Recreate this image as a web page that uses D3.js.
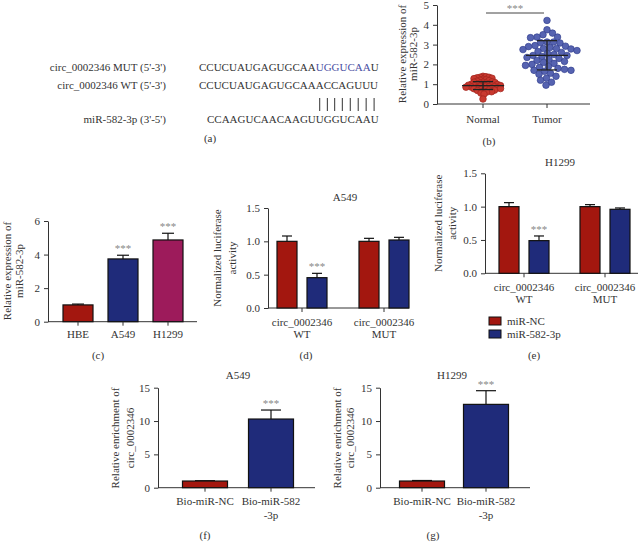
<!DOCTYPE html>
<html><head><meta charset="utf-8">
<script src="https://cdn.jsdelivr.net/npm/d3@7"></script>
<style>
body{margin:0;background:#fff}
text{font-family:"Liberation Serif","Times New Roman",serif;fill:#333;font-size:11px}
</style></head><body>
<svg id="fig" width="640" height="542"></svg>
<script>
// ---------- DATA ----------
const seqLabels = ["circ_0002346 MUT (5'-3')", "circ_0002346 WT (5'-3')", "miR-582-3p (3'-5')"];
const mutSeqParts = ["CCUCUAUGAGUGCAA", "UGGUCAA", "U"];
const wtSeq = "CCUCUAUGAGUGCAAACCAGUUU";
const mirSeq = "CCAAGUCAACAAGUUGGUCAAU";
const pairIdx = [15, 16, 17, 18, 19, 20, 21, 22];

const scatterGroups = ["Normal", "Tumor"];
const normalVals = [1.40, 1.38, 1.35, 1.35, 1.32, 1.30, 1.28, 1.25, 1.22, 1.20, 1.18, 1.15, 1.12, 1.10, 1.10, 1.08, 1.05, 1.05, 1.02, 1.00, 1.00, 0.98, 0.97, 0.95, 0.95, 0.93, 0.92, 0.90, 0.90, 0.88, 0.87, 0.85, 0.85, 0.83, 0.82, 0.80, 0.80, 0.78, 0.77, 0.75, 0.72, 0.70, 0.70, 0.68, 0.65, 0.62, 0.60, 0.55, 0.50, 0.25];
const tumorVals = [4.22, 3.75, 3.58, 3.50, 3.38, 3.38, 3.35, 3.13, 3.13, 3.08, 3.10, 2.95, 2.92, 2.90, 2.85, 2.80, 2.80, 2.78, 2.75, 2.70, 2.65, 2.60, 2.55, 2.50, 2.45, 2.45, 2.40, 2.35, 2.30, 2.25, 2.20, 2.15, 2.10, 2.05, 2.00, 1.95, 1.90, 1.85, 1.80, 1.75, 1.70, 1.70, 1.65, 1.55, 1.50, 1.40, 1.30, 1.20, 1.10, 0.95];
const scatterMean = [0.93, 2.46];
const scatterSD = [0.20, 0.74];
const scatterTicks = [0, 1, 2, 3, 4, 5];

const cellLines = ["HBE", "A549", "H1299"];
const cellExpr = [1.0, 3.74, 4.87];
const cellErr = [0.05, 0.22, 0.40];
const cellSig = ["", "***", "***"];
const cellTicks = [0, 2, 4, 6];

const lucGroups = ["WT", "MUT"];
const lucGroupPrefix = "circ_0002346";
const lucSeries = ["miR-NC", "miR-582-3p"];
const lucA549NC = [1.0, 1.0];
const lucA549NCErr = [0.08, 0.045];
const lucA549Mir = [0.455, 1.02];
const lucA549MirErr = [0.065, 0.04];
const lucH1299NC = [1.0, 1.0];
const lucH1299NCErr = [0.06, 0.03];
const lucH1299Mir = [0.49, 0.96];
const lucH1299MirErr = [0.07, 0.02];
const lucSig = ["***", ""];
const lucTicks = [0, 0.5, 1.0, 1.5];

const enrichGroups = ["Bio-miR-NC", "Bio-miR-582"];
const enrichGroupLine2 = ["", "-3p"];
const enrichA549 = [1.0, 10.3];
const enrichA549Err = [0.05, 1.35];
const enrichH1299 = [1.0, 12.5];
const enrichH1299Err = [0.08, 2.05];
const enrichSig = ["", "***"];
const enrichTicks = [0, 5, 10, 15];

// ---------- STYLE ----------
const RED = "#a3170f", NAVY = "#1f2b7a", MAG = "#9d1b5b";
const AX = "#333";
const svg = d3.select("#fig");

function txt(g, x, y, s, anchor, extra) {
  const t = g.append("text").attr("x", x).attr("y", y).attr("text-anchor", anchor || "middle").text(s);
  if (extra) extra(t);
  return t;
}
function yLabel(lines, xs, cy) {
  lines.forEach((l, i) => {
    svg.append("text").attr("transform", `translate(${xs[i] + 3.5},${cy}) rotate(-90)`)
      .attr("text-anchor", "middle").text(l);
  });
}
function yAxis(scale, x, ticks, fmt) {
  const g = svg.append("g").attr("transform", `translate(${x},0)`)
    .call(d3.axisLeft(scale).tickValues(ticks).tickSize(4).tickSizeOuter(0).tickPadding(4).tickFormat(fmt || d3.format("d")));
  g.select(".domain").attr("stroke", AX);
  g.selectAll(".tick line").attr("stroke", AX);
  g.selectAll(".tick text").attr("fill", "#333").style("font-family", '"Liberation Serif",serif').style("font-size", "11px");
  return g;
}
function xAxisLine(x0, x1, y) {
  svg.append("line").attr("x1", x0).attr("x2", x1).attr("y1", y).attr("y2", y).attr("stroke", AX);
}
function xTick(x, y) {
  svg.append("line").attr("x1", x).attr("x2", x).attr("y1", y).attr("y2", y + 4).attr("stroke", AX);
}
function bar(x, w, yScale, v, err, fill, capW) {
  const y0 = yScale(0), yv = yScale(v), ye = yScale(v + err);
  svg.append("line").attr("x1", x).attr("x2", x).attr("y1", yv).attr("y2", ye).attr("stroke", "#111").attr("stroke-width", 1.2);
  svg.append("line").attr("x1", x - capW / 2).attr("x2", x + capW / 2).attr("y1", ye).attr("y2", ye).attr("stroke", "#111").attr("stroke-width", 1.2);
  svg.append("rect").attr("x", x - w / 2).attr("y", yv).attr("width", w).attr("height", y0 - yv)
    .attr("fill", fill).attr("stroke", "#111").attr("stroke-width", 1.2);
  return ye;
}
function stars(x, yCap, s) {
  if (!s) return;
  svg.append("text").attr("x", x).attr("y", yCap + 1).attr("text-anchor", "middle")
    .style("fill", "#888").style("font-size", "11px").text(s);
}

// ---------- (a) ----------
const ga = svg.append("g");
txt(ga, 166, 71, seqLabels[0], "end");
txt(ga, 166, 89, seqLabels[1], "end");
txt(ga, 166, 123, seqLabels[2], "end");
const mt = ga.append("text").attr("x", 199).attr("y", 71);
mutSeqParts.forEach((p, i) => mt.append("tspan").text(p).style("fill", i === 1 ? "#4a4fa3" : "#333"));
const wt = txt(ga, 199, 89, wtSeq, "start");
txt(ga, 207, 123, mirSeq, "start");
const wtNode = wt.node();
pairIdx.forEach(i => {
  const a = wtNode.getStartPositionOfChar(i).x, b = wtNode.getEndPositionOfChar(i).x;
  const cx = (a + b) / 2;
  ga.append("line").attr("x1", cx).attr("x2", cx).attr("y1", 98).attr("y2", 111).attr("stroke", "#333");
});
txt(ga, 210, 142, "(a)");

// ---------- (b) scatter ----------
const yb = d3.scaleLinear().domain([0, 5]).range([104, 5]);
const xb = d3.scalePoint().domain(scatterGroups).range([483, 547]);
yAxis(yb, 437, scatterTicks);
xAxisLine(437, 590, 104);
scatterGroups.forEach(g => { xTick(xb(g), 104); txt(svg, xb(g), 123, g); });
function swarm(vals, y, cx, D) {
  const pts = [];
  const sorted = vals.map(v => ({ v, y: y(v) })).sort((a, b) => a.y - b.y);
  for (const p of sorted) {
    let best = cx;
    for (let k = 0; k < 400; k++) {
      const off = (k % 2 ? 1 : -1) * Math.ceil(k / 2) * 0.5;
      const x = cx + off;
      if (pts.every(q => (q.x - x) ** 2 + (q.y - p.y) ** 2 >= D * D)) { best = x; break; }
    }
    pts.push({ x: best, y: p.y });
  }
  return pts;
}
const swarmSets = [
  { pts: swarm(normalVals, yb, xb("Normal"), 2.9), fill: "#c9392f", stroke: "#a1241c" },
  { pts: swarm(tumorVals, yb, xb("Tumor"), 6.1), fill: "#5663b1", stroke: "#34418f" }
];
swarmSets.forEach(s => {
  svg.append("g").selectAll("circle").data(s.pts).join("circle")
    .attr("cx", d => d.x).attr("cy", d => d.y).attr("r", 3.3)
    .attr("fill", s.fill).attr("stroke", s.stroke).attr("stroke-width", 0.7);
});
scatterGroups.forEach((g, i) => {
  const cx = xb(g), m = scatterMean[i], sd = scatterSD[i];
  svg.append("line").attr("x1", cx - 21).attr("x2", cx + 21).attr("y1", yb(m)).attr("y2", yb(m)).attr("stroke", "#222").attr("stroke-width", 1.3);
  svg.append("line").attr("x1", cx).attr("x2", cx).attr("y1", yb(m - sd)).attr("y2", yb(m + sd)).attr("stroke", "#222").attr("stroke-width", 1.3);
  [m - sd, m + sd].forEach(v => svg.append("line").attr("x1", cx - 10).attr("x2", cx + 10).attr("y1", yb(v)).attr("y2", yb(v)).attr("stroke", "#222").attr("stroke-width", 1.3));
});
svg.append("line").attr("x1", 486).attr("x2", 544).attr("y1", 13).attr("y2", 13).attr("stroke", "#444");
svg.append("text").attr("x", 515).attr("y", 12).attr("text-anchor", "middle").style("fill", "#888").text("***");
yLabel(["Relative expression of", "miR-582-3p"], [402, 413], 54);
txt(svg, 489, 145, "(b)");

// ---------- (c) ----------
const yc = d3.scaleLinear().domain([0, 6]).range([321.7, 221]);
const xc = d3.scalePoint().domain(cellLines).range([78, 168]);
const cellColors = [RED, NAVY, MAG];
yAxis(yc, 48, cellTicks);
xAxisLine(48, 197, 321.7);
cellLines.forEach((c, i) => {
  const ye = bar(xc(c), 30, yc, cellExpr[i], cellErr[i], cellColors[i], 12);
  stars(xc(c), ye - 4, cellSig[i]);
  xTick(xc(c), 321.7);
  txt(svg, xc(c), 338, c);
});
yLabel(["Relative expression of", "miR-582-3p"], [7, 19], 271);
txt(svg, 98, 359, "(c)");

// ---------- (d) & (e) luciferase ----------
function lucPanel(opt) {
  const y = d3.scaleLinear().domain([0, 1.5]).range([opt.y0, opt.y0 - 100]);
  const x = d3.scalePoint().domain(lucGroups).range(opt.xr);
  yAxis(y, opt.ax, lucTicks, d3.format(".1f"));
  xAxisLine(opt.ax, opt.axEnd, opt.y0);
  lucGroups.forEach((g, i) => {
    const c = x(g);
    bar(c - 15, 20, y, opt.nc[i], opt.ncErr[i], RED, 10);
    const ye = bar(c + 15, 20, y, opt.mir[i], opt.mirErr[i], NAVY, 10);
    stars(c + 15, ye - 4, lucSig[i]);
    xTick(c, opt.y0);
    txt(svg, c, opt.y0 + 18, lucGroupPrefix);
    txt(svg, c, opt.y0 + 30, g);
  });
  txt(svg, opt.tx, opt.ty, opt.title);
  yLabel(["Normalized luciferase", "activity"], opt.lx, opt.y0 - 50);
}
lucPanel({ y0: 308, ax: 268, axEnd: 409, xr: [302, 384], nc: lucA549NC, ncErr: lucA549NCErr, mir: lucA549Mir, mirErr: lucA549MirErr, title: "A549", tx: 345, ty: 201, lx: [217, 232] });
txt(svg, 306, 359, "(d)");
lucPanel({ y0: 273.3, ax: 485, axEnd: 638, xr: [524, 605], nc: lucH1299NC, ncErr: lucH1299NCErr, mir: lucH1299Mir, mirErr: lucH1299MirErr, title: "H1299", tx: 560, ty: 166, lx: [438, 452] });
// legend
[RED, NAVY].forEach((col, i) => {
  const cy = 321 + i * 13;
  svg.append("rect").attr("x", 489).attr("y", cy - 4).attr("width", 12).attr("height", 8).attr("fill", col).attr("stroke", "#111");
  txt(svg, 507, cy + 4, lucSeries[i], "start");
});
txt(svg, 534, 359, "(e)");

// ---------- (f) & (g) enrichment ----------
function enrichPanel(opt) {
  const y = d3.scaleLinear().domain([0, 15]).range([487.7, 387.7]);
  const x = d3.scalePoint().domain(enrichGroups).range(opt.xr);
  yAxis(y, opt.ax, enrichTicks);
  xAxisLine(opt.ax, opt.axEnd, 487.7);
  enrichGroups.forEach((g, i) => {
    const c = x(g);
    const ye = bar(c, 45, y, opt.vals[i], opt.err[i], i === 0 ? RED : NAVY, 20);
    stars(c, ye - 4, enrichSig[i]);
    xTick(c, 487.7);
    txt(svg, c, 505, g);
    if (enrichGroupLine2[i]) txt(svg, c, 519, enrichGroupLine2[i]);
  });
  txt(svg, opt.tx, 379, opt.title);
  yLabel(["Relative enrichment of", "circ_0002346"], opt.lx, 438);
  txt(svg, opt.lbx, 539, opt.lab);
}
enrichPanel({ ax: 158, axEnd: 315, xr: [205, 271], vals: enrichA549, err: enrichA549Err, title: "A549", tx: 238, lx: [115, 130], lbx: 205, lab: "(f)" });
enrichPanel({ ax: 380, axEnd: 530, xr: [422, 486], vals: enrichH1299, err: enrichH1299Err, title: "H1299", tx: 452, lx: [337, 350], lbx: 433, lab: "(g)" });
</script>
</body></html>
